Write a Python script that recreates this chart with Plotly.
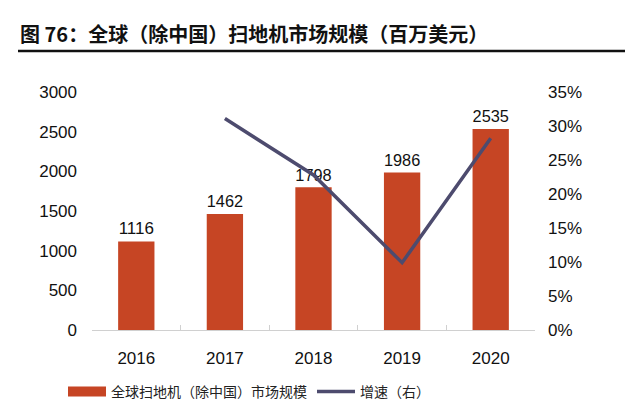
import plotly.graph_objects as go

years = ["2016", "2017", "2018", "2019", "2020"]
market = [1116, 1462, 1798, 1986, 2535]
growth_years = ["2017", "2018", "2019", "2020"]
growth = [0.311, 0.228, 0.099, 0.282]
left_ticks = [0, 500, 1000, 1500, 2000, 2500, 3000]
right_ticks = [0, 0.05, 0.10, 0.15, 0.20, 0.25, 0.30, 0.35]

bar_color = "#C64524"
line_color = "#4D4B6E"
font_num = "Liberation Sans, Arial, sans-serif"
font_cjk = "Noto Sans CJK SC, sans-serif"

# figure is placed by the page with an 8px offset; size it to fit the window
W, H = 633, 403
L, T, PW, PH = 84, 84, 443, 238
R, B = W - L - PW, H - T - PH

def px(xf):
    return (xf - L) / PW

def py(yf):
    return 1 - (yf - T) / PH

fig = go.Figure()
fig.add_trace(go.Bar(
    x=years, y=market, name="全球扫地机（除中国）市场规模",
    marker=dict(color=bar_color, line=dict(width=0)),
    width=0.41, showlegend=False,
    text=[str(v) for v in market], textposition="outside",
    textfont=dict(family=font_num, size=17, color="#111111"),
    cliponaxis=False,
))
# legend-only entry for the bars (wide rectangular swatch)
fig.add_trace(go.Scatter(
    x=[years[0]], y=[None], name="全球扫地机（除中国）市场规模",
    mode="lines", line=dict(color=bar_color, width=10),
))
fig.add_trace(go.Scatter(
    x=growth_years, y=growth, name="增速（右）", yaxis="y2",
    mode="lines", line=dict(color=line_color, width=3.5),
))

fig.update_layout(
    width=W, height=H,
    margin=dict(l=L, r=R, t=T, b=B, autoexpand=False),
    paper_bgcolor="white", plot_bgcolor="white",
    showlegend=True,
    legend=dict(orientation="h", x=px(55), xanchor="left",
                y=py(384), yanchor="middle",
                font=dict(family=font_cjk, size=14, color="#222222"),
                itemwidth=38, tracegroupgap=0),
    bargap=0.59,
    xaxis=dict(
        type="category", showline=True, linecolor="#d0d0d0", linewidth=1,
        ticks="inside", tickson="boundaries", ticklen=5, tickcolor="#d0d0d0",
        ticklabelstandoff=13,
        tickfont=dict(family=font_num, size=17, color="#111111"),
        showgrid=False,
    ),
    yaxis=dict(
        range=[0, 3000], tickvals=left_ticks, showgrid=False, zeroline=False,
        showline=False, ticks="", ticklabelstandoff=14,
        tickfont=dict(family=font_num, size=17, color="#111111"),
    ),
    yaxis2=dict(
        range=[0, 0.35], tickvals=right_ticks, tickformat=".0%", overlaying="y",
        side="right", showgrid=False, zeroline=False, showline=False, ticks="",
        ticklabelstandoff=12,
        tickfont=dict(family=font_num, size=17, color="#111111"),
    ),
    font=dict(family=font_cjk),
)

fig.add_annotation(
    text="<b>图 76：全球（除中国）扫地机市场规模（百万美元）</b>",
    xref="paper", yref="paper", x=px(10), xanchor="left",
    y=py(25), yanchor="middle", showarrow=False,
    font=dict(family=font_cjk, size=20, color="#111111"),
)
fig.add_shape(
    type="line", xref="paper", yref="paper",
    x0=px(10), x1=px(617), y0=py(43), y1=py(43),
    line=dict(color="#111111", width=2.5),
)

fig.write_html("out.html")
